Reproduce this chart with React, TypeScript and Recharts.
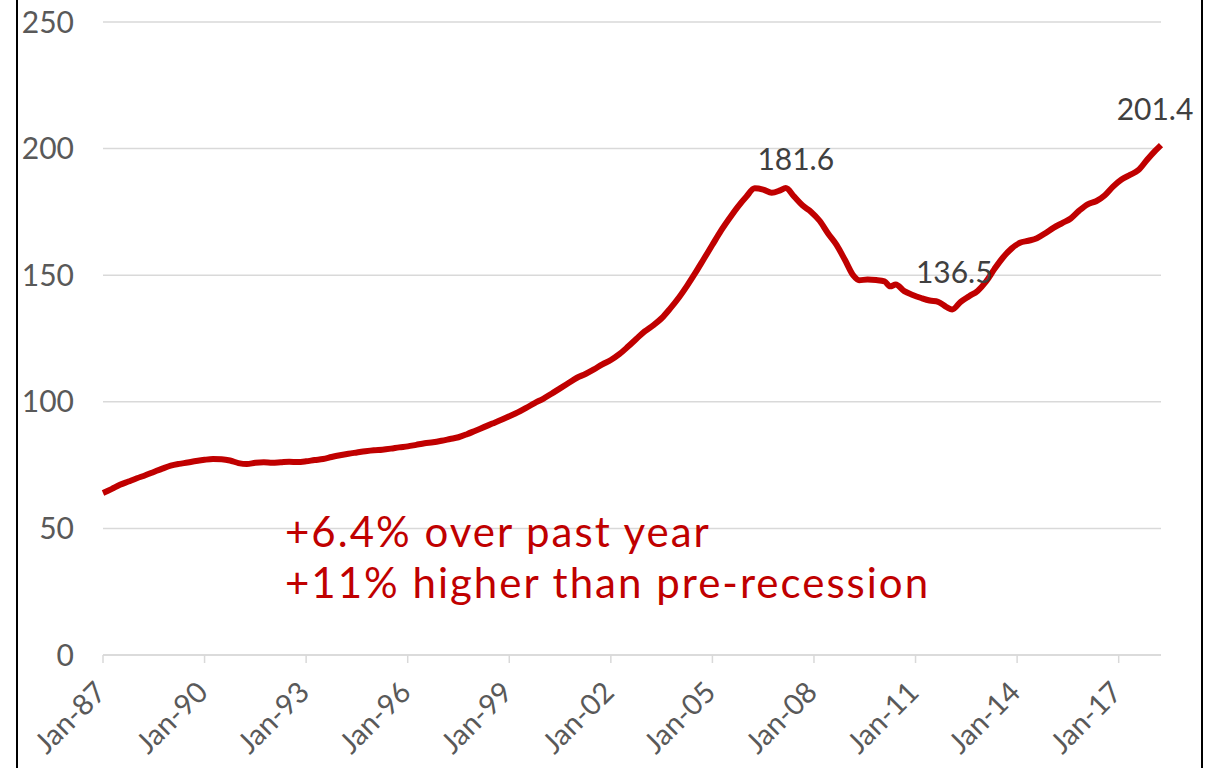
import React from "react";
import { LineChart, Line, XAxis, YAxis, CartesianGrid, LabelList } from "recharts";

// months since Jan-1987
const monthIndex = [
  0, 3, 6, 9, 12, 15, 18, 21, 24, 27, 30, 33, 36, 39, 42, 45, 48, 51, 54, 57,
  60, 63, 66, 69, 72, 75, 78, 81, 84, 87, 90, 93, 96, 99, 102, 105, 108, 111, 114, 117,
  120, 123, 126, 129, 132, 135, 138, 141, 144, 147, 150, 153, 156, 159, 162, 165, 168, 171, 174, 177,
  180, 183, 186, 189, 192, 195, 198, 201, 204, 207, 210, 213, 216, 219, 222, 225, 228, 231, 234, 237,
  240, 242, 245, 248, 251, 254, 257, 260, 263, 266, 268, 271, 274, 277, 279, 281, 284, 287, 290, 293,
  296, 299, 301, 304, 307, 310, 313, 316, 319, 322, 325, 328, 331, 334, 337, 340, 343, 346, 349, 352,
  355, 358, 361, 364, 367, 370, 373, 375,
];

const hpiValues = [
  64.0, 65.5, 67.2, 68.5, 69.8, 71.0, 72.3, 73.6, 74.8, 75.5, 76.0, 76.6, 77.1, 77.4, 77.3, 76.8, 75.8, 75.4, 75.9, 76.1,
  75.9, 76.1, 76.3, 76.2, 76.5, 77.0, 77.4, 78.2, 78.9, 79.5, 80.0, 80.5, 80.9, 81.1, 81.5, 82.0, 82.4, 83.0, 83.6, 84.0,
  84.6, 85.3, 86.0, 87.2, 88.6, 90.0, 91.4, 92.8, 94.3, 95.8, 97.6, 99.5, 101.2, 103.2, 105.3, 107.4, 109.5, 111.0, 112.8, 114.8,
  116.5, 118.8, 121.7, 124.8, 127.8, 130.2, 133.0, 136.8, 141.0, 145.8, 151.0, 156.5, 162.0, 167.5, 172.4, 177.0, 181.0, 184.3, 183.8, 182.6,
  183.5, 184.4, 181.0, 177.5, 175.0, 171.5, 166.5, 162.0, 156.0, 149.8, 148.0, 148.3, 148.1, 147.6, 145.6, 146.3, 143.7, 142.2, 141.0, 140.0,
  139.5, 137.4, 136.5, 139.5, 141.7, 143.8, 147.5, 152.5, 157.0, 160.5, 162.8, 163.6, 164.6, 166.6, 168.8, 170.6, 172.4, 175.5, 178.0, 179.2,
  181.5, 185.0, 187.8, 189.6, 191.5, 195.5, 199.2, 201.4,
];

const tickMonths = [0, 36, 72, 108, 144, 180, 216, 252, 288, 324, 360];
const tickLabels = ["Jan-87", "Jan-90", "Jan-93", "Jan-96", "Jan-99", "Jan-02", "Jan-05", "Jan-08", "Jan-11", "Jan-14", "Jan-17"];
const yTicks = [0, 50, 100, 150, 200, 250];

const labelMonths = [242, 301, 375];
const labelTexts = ["181.6", "136.5", "201.4"];

const annotationLines = ["+6.4% over past year", "+11% higher than pre-recession"];

const data = monthIndex.map((m, i) => {
  const li = labelMonths.indexOf(m);
  return { m, v: hpiValues[i], label: li >= 0 ? labelTexts[li] : undefined };
});

const labelNudges: Record<string, [number, number]> = {
  "181.6": [10, -18],
  "136.5": [2, -26],
  "201.4": [-6, -25],
};

const FONT = "Lato, 'DejaVu Sans', sans-serif";

const XTick = (props: any) => {
  const { x, y, payload } = props;
  const idx = tickMonths.indexOf(payload.value);
  const text = idx >= 0 ? tickLabels[idx] : "";
  return (
    <g transform={`translate(${x + 5},${y + 29})`}>
      <text
        x={0}
        y={0}
        textAnchor="end"
        transform="rotate(-45)"
        fill="#595959"
        fontSize={29}
        fontFamily={FONT}
      >
        {text}
      </text>
    </g>
  );
};

const DataLabel = (props: any) => {
  const { x, y, value } = props;
  if (!value) return null;
  const [dx, dy] = labelNudges[value] || [0, -22];
  return (
    <text
      x={x + dx}
      y={y + dy}
      textAnchor="middle"
      fill="#404040"
      fontSize={30}
      fontFamily={FONT}
    >
      {value}
    </text>
  );
};

export default function App() {
  return (
    <div style={{ position: "absolute", left: 0, top: 0, width: 1211, height: 768, background: "#fff", overflow: "hidden" }}>
      <div
        style={{
          position: "absolute",
          left: 16,
          top: 0,
          width: 1187,
          height: 768,
          borderLeft: "2px solid #000",
          borderRight: "2px solid #000",
          boxSizing: "border-box",
        }}
      />
      <div style={{ position: "absolute", left: 0, top: 0 }}>
        <LineChart width={1211} height={768} data={data} margin={{ top: 22, right: 50, bottom: 0, left: 0 }}>
          <CartesianGrid horizontal vertical={false} stroke="#d9d9d9" strokeWidth={1.5} />
          <XAxis
            type="number"
            dataKey="m"
            domain={[0, 375]}
            ticks={tickMonths}
            interval={0}
            axisLine={{ stroke: "#d9d9d9", strokeWidth: 1.5 }}
            tickLine={{ stroke: "#d9d9d9", strokeWidth: 1.5 }}
            tickSize={8}
            height={113}
            tick={<XTick />}
          />
          <YAxis
            domain={[0, 250]}
            ticks={yTicks}
            width={103}
            axisLine={false}
            tickLine={false}
            tickSize={0}
            tickMargin={29}
            tick={{ fill: "#595959", fontSize: 30, fontFamily: FONT }}
          />
          <Line
            type="monotone"
            dataKey="v"
            stroke="#c00000"
            strokeWidth={6}
            dot={false}
            isAnimationActive={false}
          >
            <LabelList dataKey="label" content={<DataLabel />} />
          </Line>
        </LineChart>
      </div>
      <div
        style={{
          position: "absolute",
          left: 285,
          top: 506,
          color: "#c00000",
          fontFamily: FONT,
          fontSize: 42,
          lineHeight: "51px",
          letterSpacing: 2,
          whiteSpace: "nowrap",
        }}
      >
        {annotationLines.map((t) => (
          <div key={t}>{t}</div>
        ))}
      </div>
    </div>
  );
}
